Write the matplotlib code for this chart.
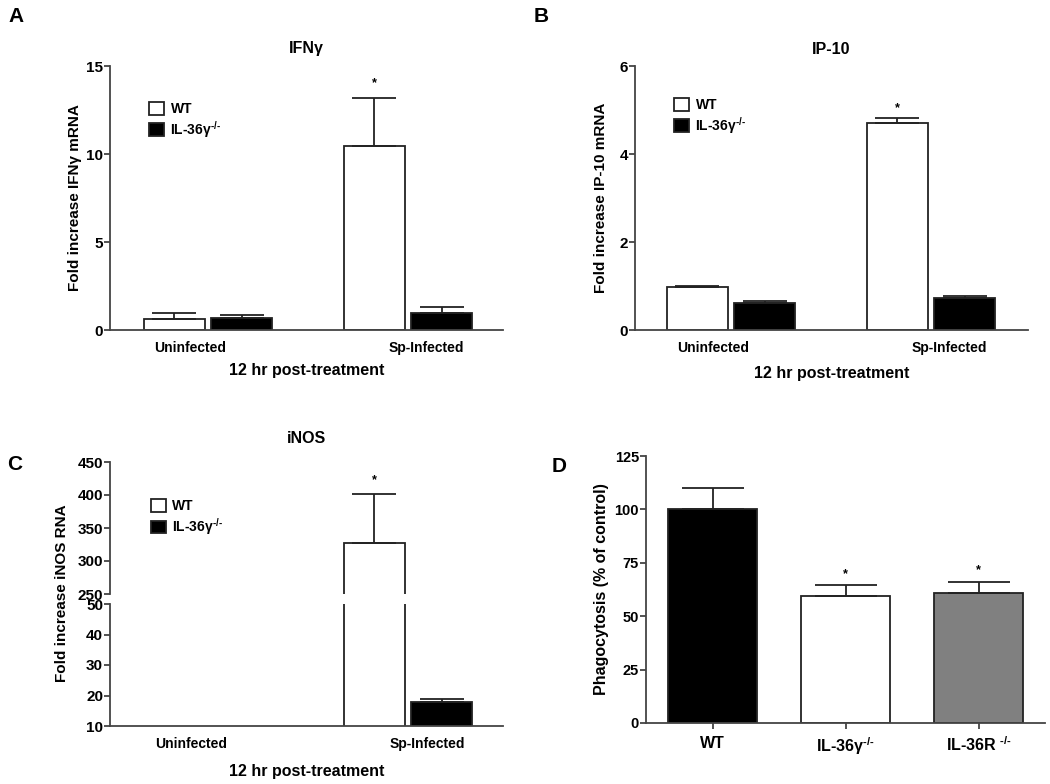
import matplotlib.pyplot as plt
import numpy as np

plt.rcParams['font.family'] = ['Liberation Sans', 'DejaVu Sans']
plt.rcParams['font.weight'] = 'bold'
plt.rcParams['axes.labelweight'] = 'bold'
plt.rcParams['axes.titleweight'] = 'bold'
plt.rcParams['mathtext.fontset'] = 'custom'
plt.rcParams['mathtext.rm'] = 'Liberation Sans:bold'
plt.rcParams['mathtext.bf'] = 'Liberation Sans:bold'

# Datos
grupos = ['Uninfected', 'Sp-Infected']
ifng_wt = [0.62, 10.45]
ifng_wt_err = [0.34, 2.75]
ifng_ko = [0.68, 0.98]
ifng_ko_err = [0.17, 0.31]

ip10_wt = [0.97, 4.71]
ip10_wt_err = [0.03, 0.10]
ip10_ko = [0.62, 0.73]
ip10_ko_err = [0.04, 0.04]

inos_wt = [1.0, 327]
inos_wt_err = [0.3, 74]
inos_ko = [1.0, 17.9]
inos_ko_err = [0.2, 1.0]

sup = r'$^{\text{-/-}}$'
fago_cats = ['WT', 'IL-36γ' + sup, 'IL-36R ' + sup]
fago_vals = [100, 59.5, 61]
fago_err = [9.9, 5.0, 5.2]
fago_colors = ['black', 'white', '#808080']

W, H = 1050, 784
fig = plt.figure(figsize=(W / 100, H / 100), dpi=100)

def ejes(l, t, r, b):
    return fig.add_axes([l / W, 1 - b / H, (r - l) / W, (b - t) / H])

ec = '#222222'
lw = 1.3
ko_lab = 'IL-36γ' + sup

def estilo(ax, ytam=11):
    for s in ['top', 'right']:
        ax.spines[s].set_visible(False)
    for s in ['left', 'bottom']:
        ax.spines[s].set_color('#444444')
        ax.spines[s].set_linewidth(lw)
    ax.tick_params(axis='y', length=4, width=lw, color='#444444', labelsize=ytam, pad=1)
    ax.tick_params(axis='x', length=0, labelsize=10, pad=8)

def barras(ax, wt, wt_err, ko, ko_err, estrella=True, offset_pt=6):
    x = np.arange(len(grupos))
    b1 = ax.bar(x - 0.168, wt, 0.305, color='white', edgecolor=ec, linewidth=lw, label='WT')
    b2 = ax.bar(x + 0.168, ko, 0.305, color='black', edgecolor=ec, linewidth=lw, label=ko_lab)
    ax.errorbar(x - 0.168, wt, yerr=[np.zeros(len(wt)), wt_err], fmt='none',
                ecolor=ec, elinewidth=lw, capsize=16, capthick=lw)
    ax.errorbar(x + 0.168, ko, yerr=[np.zeros(len(ko)), ko_err], fmt='none',
                ecolor=ec, elinewidth=lw, capsize=16, capthick=lw)
    if estrella:
        ax.annotate('*', (1 - 0.168, wt[1] + wt_err[1]), xytext=(0, offset_pt),
                    textcoords='offset points', ha='center', va='bottom', fontsize=9)
    return b1, b2

def leyenda(ax, x, y, handles=None):
    if handles is None:
        handles = ax.get_legend_handles_labels()
    ax.legend(*handles, loc='upper left', bbox_to_anchor=(x, y), frameon=False, fontsize=10,
              handlelength=1.05, handleheight=1.05, handletextpad=0.5, labelspacing=0.2,
              borderaxespad=0)

# Panel A
axA = ejes(110, 66, 503, 330)
barras(axA, ifng_wt, ifng_wt_err, ifng_ko, ifng_ko_err)
estilo(axA)
axA.set_xlim(-0.49, 1.475)
axA.set_ylim(0, 15)
axA.set_yticks([0, 5, 10, 15])
axA.set_xticks([-0.09, 1.09])
axA.set_xticklabels(grupos)
axA.set_title('IFNγ', fontsize=11.5, pad=9)
axA.set_ylabel('Fold increase IFNγ mRNA', fontsize=11, labelpad=3)
axA.set_xlabel('12 hr post-treatment', fontsize=11.5, labelpad=6)
leyenda(axA, 0.085, 0.885)

# Panel B
axB = ejes(635, 66, 1028, 330)
barras(axB, ip10_wt, ip10_wt_err, ip10_ko, ip10_ko_err, offset_pt=3)
estilo(axB)
axB.set_xlim(-0.48, 1.485)
axB.set_ylim(0, 6)
axB.set_yticks([0, 2, 4, 6])
axB.set_xticks([-0.09, 1.09])
axB.set_xticklabels(grupos)
axB.set_title('IP-10', fontsize=11.5, pad=9)
axB.set_ylabel('Fold increase IP-10 mRNA', fontsize=11, labelpad=8)
axB.set_xlabel('12 hr post-treatment', fontsize=11.5, labelpad=8)
leyenda(axB, 0.085, 0.9)

# Panel C (eje y cortado)
axC1 = ejes(110, 462, 503, 594)
axC2 = ejes(110, 604, 503, 726)
barras(axC1, inos_wt, inos_wt_err, inos_ko, inos_ko_err)
barras(axC2, inos_wt, inos_wt_err, inos_ko, inos_ko_err, estrella=False)
for ax in (axC1, axC2):
    estilo(ax)
    ax.set_xlim(-0.49, 1.475)
axC1.set_ylim(250, 450)
axC1.set_yticks([250, 300, 350, 400, 450])
axC1.spines['bottom'].set_visible(False)
axC1.set_xticks([])
axC2.set_ylim(10, 50)
axC2.set_yticks([10, 20, 30, 40, 50])
axC2.set_xticks([-0.085, 1.095])
axC2.set_xticklabels(grupos)
axC2.set_xlabel('12 hr post-treatment', fontsize=11.5, labelpad=9)
axC1.set_title('iNOS', fontsize=11.5, pad=14)
fig.text(62 / W, 1 - 593 / H, 'Fold increase iNOS RNA', rotation=90, fontsize=11,
         fontweight='bold', ha='center', va='center')
leyenda(axC1, 0.09, 0.76, axC2.get_legend_handles_labels())

# Panel D
axD = ejes(646, 456, 1045, 723)
xd = np.arange(len(fago_cats))
axD.bar(xd, fago_vals, 0.667, color=fago_colors, edgecolor=ec, linewidth=lw)
axD.errorbar(xd, fago_vals, yerr=[np.zeros(len(fago_vals)), fago_err], fmt='none',
             ecolor=ec, elinewidth=lw, capsize=22, capthick=lw)
for i in [1, 2]:
    axD.annotate('*', (xd[i], fago_vals[i] + fago_err[i]), xytext=(0, 4),
                 textcoords='offset points', ha='center', va='bottom', fontsize=9)
estilo(axD, ytam=10.5)
axD.set_xlim(-0.5, 2.5)
axD.set_ylim(0, 125)
axD.set_yticks([0, 25, 50, 75, 100, 125])
axD.set_xticks(xd)
axD.set_xticklabels(fago_cats, fontsize=11.5)
axD.tick_params(axis='x', length=4, width=lw, color='#444444', pad=5)
axD.set_ylabel('Phagocytosis (% of control)', fontsize=11.5, labelpad=4)

# Letras de los paneles
for letra, x, y in [('A', 16, 16), ('B', 541, 16), ('C', 15, 465), ('D', 559, 467)]:
    fig.text(x / W, 1 - y / H, letra, fontsize=15, fontweight='bold', ha='center', va='center')

fig.savefig('out.png', dpi=100)
